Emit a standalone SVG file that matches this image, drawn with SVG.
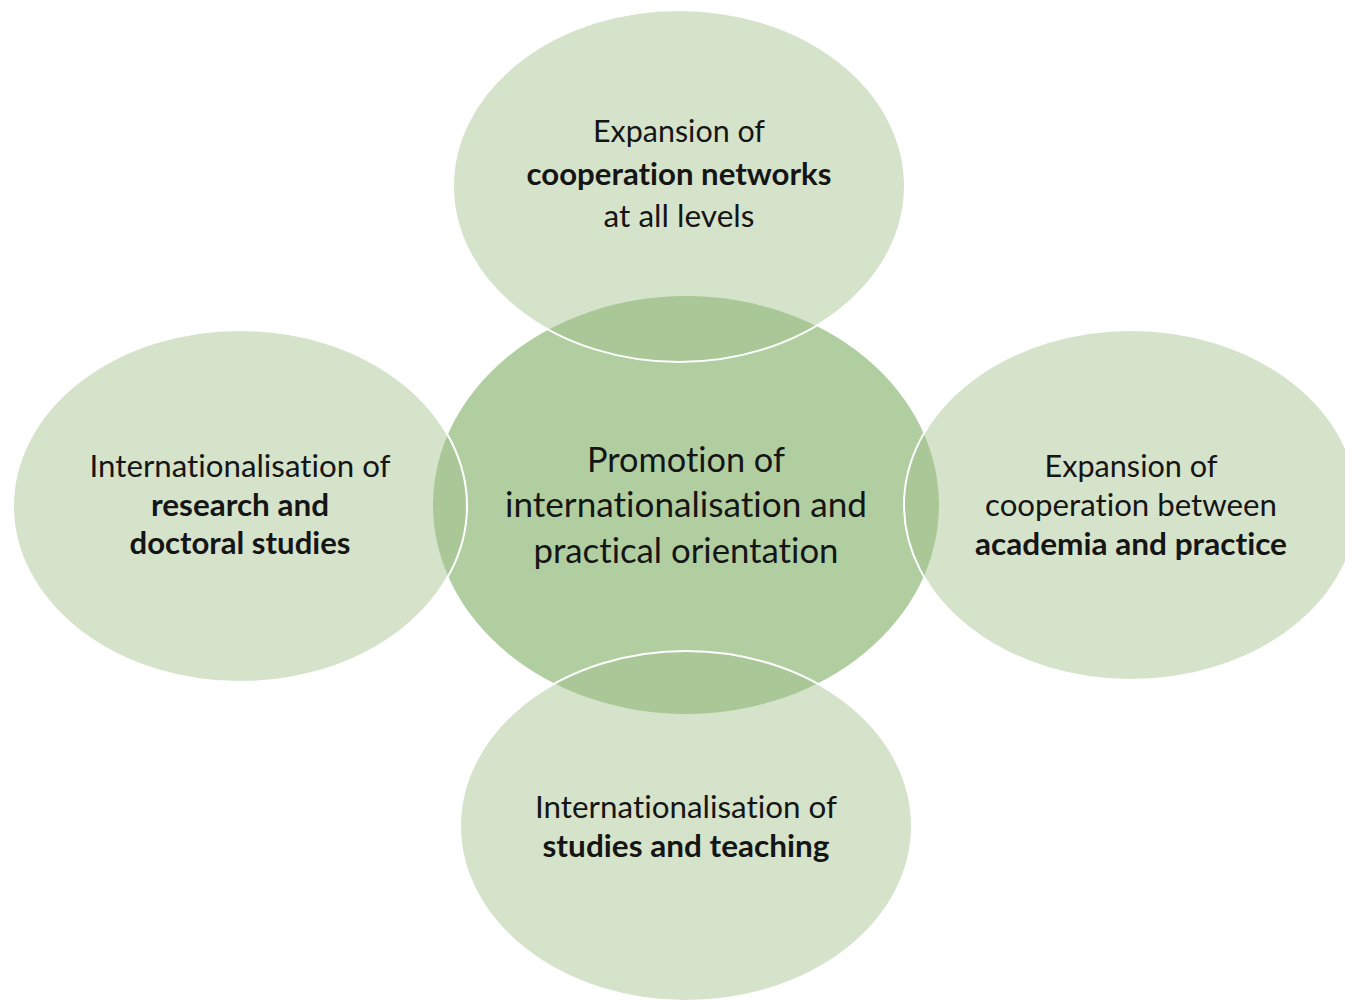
<svg xmlns="http://www.w3.org/2000/svg" width="1345" height="1001" viewBox="0 0 1345 1001">
<style>
.center{fill:#b1cea0;}
.outer{fill:#a2c18c;fill-opacity:0.45;stroke:#ffffff;stroke-width:2;}
text{font-family:Lato,"Open Sans","Liberation Sans",sans-serif;fill:#151515;text-anchor:middle;font-variant-ligatures:none;font-feature-settings:"liga" 0,"clig" 0;}
.o{font-size:31px;}
.c{font-size:35px;}
.b{font-weight:700;}
</style>
<rect width="1345" height="1001" fill="#ffffff"/>
<g id="node-center">
<ellipse class="center" cx="686" cy="505" rx="253" ry="209"/>
</g>
<g id="node-top">
<ellipse class="outer" cx="679" cy="186" rx="226" ry="176"/>
<text class="o" x="679" y="142" textLength="172" lengthAdjust="spacingAndGlyphs">Expansion of</text>
<text class="o b" x="679" y="185" textLength="305" lengthAdjust="spacingAndGlyphs">cooperation networks</text>
<text class="o" x="679" y="227" textLength="151" lengthAdjust="spacingAndGlyphs">at all levels</text>
</g>
<g id="node-left">
<ellipse class="outer" cx="240" cy="506" rx="227" ry="176"/>
<text class="o" x="240" y="477" textLength="301" lengthAdjust="spacingAndGlyphs">Internationalisation of</text>
<text class="o b" x="240" y="516" textLength="178" lengthAdjust="spacingAndGlyphs">research and</text>
<text class="o b" x="240" y="554" textLength="221" lengthAdjust="spacingAndGlyphs">doctoral studies</text>
</g>
<g id="node-right">
<ellipse class="outer" cx="1131" cy="505" rx="227" ry="175"/>
<text class="o" x="1131" y="477" textLength="173" lengthAdjust="spacingAndGlyphs">Expansion of</text>
<text class="o" x="1131" y="516" textLength="292" lengthAdjust="spacingAndGlyphs">cooperation between</text>
<text class="o b" x="1131" y="555" textLength="312" lengthAdjust="spacingAndGlyphs">academia and practice</text>
</g>
<g id="node-bottom">
<ellipse class="outer" cx="686" cy="826" rx="226" ry="175"/>
<text class="o" x="686" y="818" textLength="302" lengthAdjust="spacingAndGlyphs">Internationalisation of</text>
<text class="o b" x="686" y="857" textLength="287" lengthAdjust="spacingAndGlyphs">studies and teaching</text>
</g>
<g id="center-label">
<text class="c" x="686" y="472" textLength="198" lengthAdjust="spacingAndGlyphs">Promotion of</text>
<text class="c" x="686" y="517" textLength="362" lengthAdjust="spacingAndGlyphs">internationalisation and</text>
<text class="c" x="686" y="563" textLength="305" lengthAdjust="spacingAndGlyphs">practical orientation</text>
</g>
</svg>
